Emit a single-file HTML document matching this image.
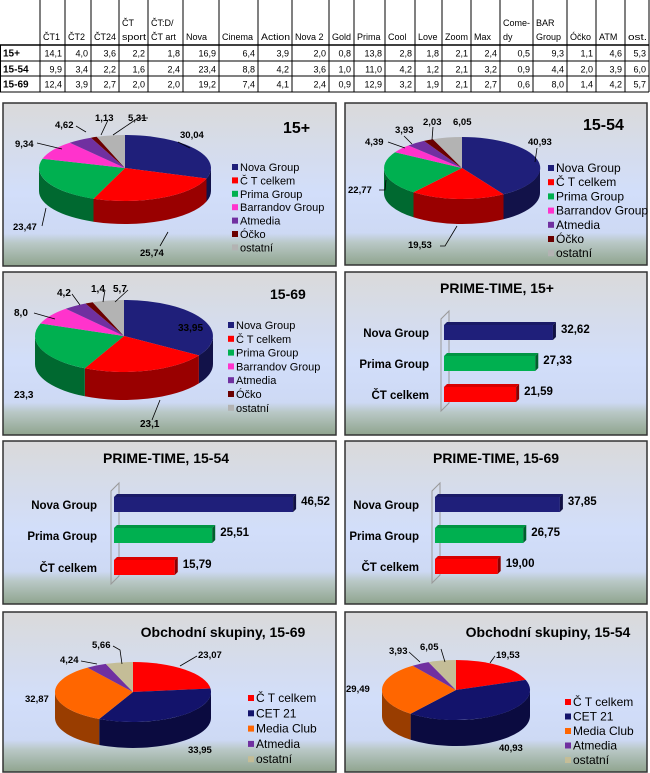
<!DOCTYPE html>
<html><head><meta charset="utf-8"><style>
html,body{margin:0;padding:0;background:#fff;width:650px;height:773px;overflow:hidden}
svg{display:block;font-family:"Liberation Sans",sans-serif}
</style></head><body>
<svg id="s" width="650" height="773" xmlns="http://www.w3.org/2000/svg">
<defs>
<linearGradient id="bg" x1="0" y1="0" x2="0" y2="1">
<stop offset="0" stop-color="#dadada"/><stop offset="0.3" stop-color="#d5dcec"/>
<stop offset="0.55" stop-color="#d2defa"/><stop offset="0.8" stop-color="#cdd9f4"/>
<stop offset="0.86" stop-color="#b9c8c6"/><stop offset="1" stop-color="#8fa48e"/>
</linearGradient>
</defs>
</svg>
<script>
const S=document.getElementById('s');
let H='';
function T(x,y,t,o){o=o||{};H+=`<text x="${x}" y="${y}" font-size="${o.fs||10}" font-weight="${o.b?'bold':'normal'}" text-anchor="${o.a||'start'}" fill="${o.c||'#000'}"${o.tl?` textLength="${o.tl}" lengthAdjust="spacingAndGlyphs"`:''}>${t}</text>`;}
const cx=[0,40,65,91,119,148,183,219,258,292,329,354,385,415,442,471,500,533,567,596,625,649];
const hd=[["","ČT1"],["","ČT2"],["","ČT24"],["ČT","sport"],["ČT:D/","ČT art"],["","Nova"],["","Cinema"],["","Action"],["","Nova 2"],["","Gold"],["","Prima"],["","Cool"],["","Love"],["","Zoom"],["","Max"],["Come-","dy"],["BAR","Group"],["","Óčko"],["","ATM"],["","ost."]];
const rows=[["15+","14,1 4,0 3,6 2,2 1,8 16,9 6,4 3,9 2,0 0,8 13,8 2,8 1,8 2,1 2,4 0,5 9,3 1,1 4,6 5,3"],
["15-54","9,9 3,4 2,2 1,6 2,4 23,4 8,8 4,2 3,6 1,0 11,0 4,2 1,2 2,1 3,2 0,9 4,4 2,0 3,9 6,0"],
["15-69","12,4 3,9 2,7 2,0 2,0 19,2 7,4 4,1 2,4 0,9 12,9 3,2 1,9 2,1 2,7 0,6 8,0 1,4 4,2 5,7"]];
const ry=[0,45,61,76,92];
for(let i=1;i<cx.length-1;i++){H+=`<line x1="${cx[i]}" y1="0" x2="${cx[i]}" y2="92" stroke="#000" stroke-width="1"/>`;}
for(let j=1;j<5;j++)H+=`<line x1="0" y1="${ry[j]}" x2="649" y2="${ry[j]}" stroke="#000" stroke-width="${j==1?1.5:1}"/>`;
H+=`<line x1="0.5" y1="45" x2="0.5" y2="92" stroke="#000"/><line x1="649" y1="0" x2="649" y2="92" stroke="#000"/>`;
hd.forEach((h,i)=>{const x=cx[i+1]+3;const w=cx[i+2]-cx[i+1]-5;
 const f=(s)=>{const est=s.length*5;return est>w?w:null;};
 if(h[0])T(x,26,h[0],{fs:9,tl:f(h[0])});T(x,40,h[1],{fs:9,tl:f(h[1])});});
rows.forEach((r,j)=>{const y=ry[j+1]+11.5;T(3,y,r[0],{b:1,fs:10});r[1].split(' ').forEach((v,i)=>T(cx[i+2]-3,y,v,{a:'end',fs:9}));});
function panel(x,y,w,h){H+=`<rect x="${x}" y="${y}" width="${w}" height="${h}" fill="url(#bg)" stroke="#333" stroke-width="1.5"/>`;}
panel(3,103,333,163);panel(345,103,302,162);
panel(3,272,333,163);panel(345,272,302,163);
panel(3,441,333,163);panel(345,441,302,163);
panel(3,612,333,160);panel(345,612,302,160);
function dk(c,f){const n=parseInt(c.slice(1),16);let r=(n>>16)*f|0,g=((n>>8)&255)*f|0,b=(n&255)*f|0;return `rgb(${r},${g},${b})`;}
function pie(cx,cy,rx,ry,d,vals,cols){const tot=vals.reduce((a,b)=>a+b,0);const P=(t,o)=>[(cx+rx*Math.sin(t)).toFixed(1),(cy-ry*Math.cos(t)+(o||0)).toFixed(1)];
let a=0;const sl=vals.map((v,i)=>{const a0=a;a+=v/tot*2*Math.PI;return [a0,a,cols[i]];});
sl.forEach(([a0,a1,c])=>{const s=Math.max(a0,Math.PI/2),e=Math.min(a1,1.5*Math.PI);if(e>s){const p1=P(s),p2=P(e),q2=P(e,d),q1=P(s,d);
H+=`<path d="M${p1} A${rx} ${ry} 0 0 1 ${p2} L${q2} A${rx} ${ry} 0 0 0 ${q1} Z" fill="${dk(c,0.6)}"/>`;}});
sl.forEach(([a0,a1,c])=>{const p1=P(a0),p2=P(a1);const l=(a1-a0)>Math.PI?1:0;H+=`<path d="M${cx} ${cy} L${p1} A${rx} ${ry} 0 ${l} 1 ${p2} Z" fill="${c}"/>`;});}
function legend(x,y,step,items,cols,fs){items.forEach((t,i)=>{H+=`<rect x="${x}" y="${y+i*step-3}" width="6" height="6" fill="${cols[i]}"/>`;T(x+8,y+i*step+4,t,{fs:fs||11});});}
const C7=['#1f1f7a','#ff0000','#00b050','#ff33cc','#7030a0','#6b0000','#b3b3b3'];
const L7=['Nova Group','Č T celkem','Prima Group','Barrandov Group','Atmedia','Óčko','ostatní'];
pie(125,168,86,33,23,[30.04,25.74,23.47,9.34,4.62,1.13,5.31],C7);
legend(232,167,13.4,L7,C7,11);T(283,133,'15+',{b:1,fs:16});
[[180,138,'30,04'],[140,256,'25,74'],[13,230,'23,47'],[15,147,'9,34'],[55,128,'4,62'],[95,121,'1,13'],[128,121,'5,31']].forEach(l=>T(l[0],l[1],l[2],{b:1,fs:9.5}));
H+=`<path d="M178 142 L190 148 M160 246 L168 232 M42 226 L46 208 M37 143 L62 149 M76 126 L86 132 M108 120 L101 135 M148 118 L138 118 L113 135" stroke="#000" fill="none" stroke-width="0.8"/>`;
pie(462,168,78,31,25,[40.93,19.53,22.77,4.39,3.93,2.03,6.05],C7);
legend(548,168,14.2,L7,C7,12);T(583,130,'15-54',{b:1,fs:16});
[[528,145,'40,93'],[408,248,'19,53'],[348,193,'22,77'],[365,145,'4,39'],[395,133,'3,93'],[423,125,'2,03'],[453,125,'6,05']].forEach(l=>T(l[0],l[1],l[2],{b:1,fs:9.5}));
H+=`<path d="M537 148 L535 162 M440 246 L445 246 L457 226 M379 190 L385 190 L386 180 M388 142 L405 148 M404 136 L412 144 M433 127 L432 140" stroke="#000" fill="none" stroke-width="0.8"/>`;
pie(124,336,89,36,28,[33.95,23.1,23.3,8.0,4.2,1.4,5.7],C7);
legend(228,325,13.8,L7,C7,11);T(270,299,'15-69',{b:1,fs:14});
[[178,331,'33,95'],[140,427,'23,1'],[14,398,'23,3'],[14,316,'8,0'],[57,296,'4,2'],[91,292,'1,4'],[113,292,'5,7']].forEach(l=>T(l[0],l[1],l[2],{b:1,fs:10}));
H+=`<path d="M34 313 L55 319 M72 294 L80 305 M105 290 L103 302 M128 290 L115 302 M152 420 L160 400" stroke="#000" fill="none" stroke-width="0.8"/>`;
function bars(title,tx,ty,x0,lx,ys,vals,scale,cols){T(tx,ty,title,{b:1,fs:14,a:'middle'});
const top=ys[0]-14,bot=ys[2]+24;H+=`<path d="M${x0-3} ${bot} L${x0-3} ${top+8} L${x0+5} ${top} L${x0+5} ${bot-8} Z" fill="none" stroke="#999" stroke-width="1"/>`;
const nm=['Nova Group','Prima Group','ČT celkem'];
ys.forEach((y,i)=>{const w=vals[i]*scale;const c=cols[i];
H+=`<rect x="${x0}" y="${y}" width="${w}" height="15" fill="${c}"/><path d="M${x0+w} ${y} l3 -3 v15 l-3 3 Z" fill="${dk(c,0.55)}"/><path d="M${x0} ${y} l3 -3 h${w} l-3 3 Z" fill="${dk(c,0.85)}"/>`;
T(lx,y+12,nm[i],{b:1,fs:11.5,a:'end'});T(x0+w+8,y+8,vals[i].toFixed(2).replace('.',','),{b:1,fs:11.5});});}
const BC=['#1f1f7a','#00b050','#ff0000'];
bars('PRIME-TIME, 15+',497,293,444,429,[325,356,387],[32.62,27.33,21.59],3.34,BC);
bars('PRIME-TIME, 15-54',166,463,114,97,[497,528,560],[46.52,25.51,15.79],3.85,BC);
bars('PRIME-TIME, 15-69',496,463,435,419,[497,528,559],[37.85,26.75,19.00],3.3,BC);
const C5=['#ff0000','#13136b','#ff6600','#7030a0','#c4bd97'];
const L5=['Č T celkem','CET 21','Media Club','Atmedia','ostatní'];
pie(133,692,78,30,26,[23.07,33.95,32.87,4.24,5.66],C5);
legend(248,698,15.3,L5,C5,12);T(223,637,'Obchodní skupiny, 15-69',{b:1,fs:14,a:'middle'});
[[198,658,'23,07'],[188,753,'33,95'],[25,702,'32,87'],[60,663,'4,24'],[92,648,'5,66']].forEach(l=>T(l[0],l[1],l[2],{b:1,fs:9.5}));
H+=`<path d="M197 656 L180 666 M81 661 L97 664 M113 646 L120 650 L122 664" stroke="#000" fill="none" stroke-width="0.8"/>`;
pie(456,690,74,30,26,[19.53,40.93,29.49,3.93,6.05],C5);
legend(565,702,14.5,L5,C5,12);T(548,637,'Obchodní skupiny, 15-54',{b:1,fs:14,a:'middle'});
[[496,658,'19,53'],[499,751,'40,93'],[346,692,'29,49'],[389,654,'3,93'],[420,650,'6,05']].forEach(l=>T(l[0],l[1],l[2],{b:1,fs:9.5}));
H+=`<path d="M495 656 L490 663 M409 652 L420 662 M441 649 L445 662" stroke="#000" fill="none" stroke-width="0.8"/>`;
S.insertAdjacentHTML('beforeend',H);
</script>
</body></html>
